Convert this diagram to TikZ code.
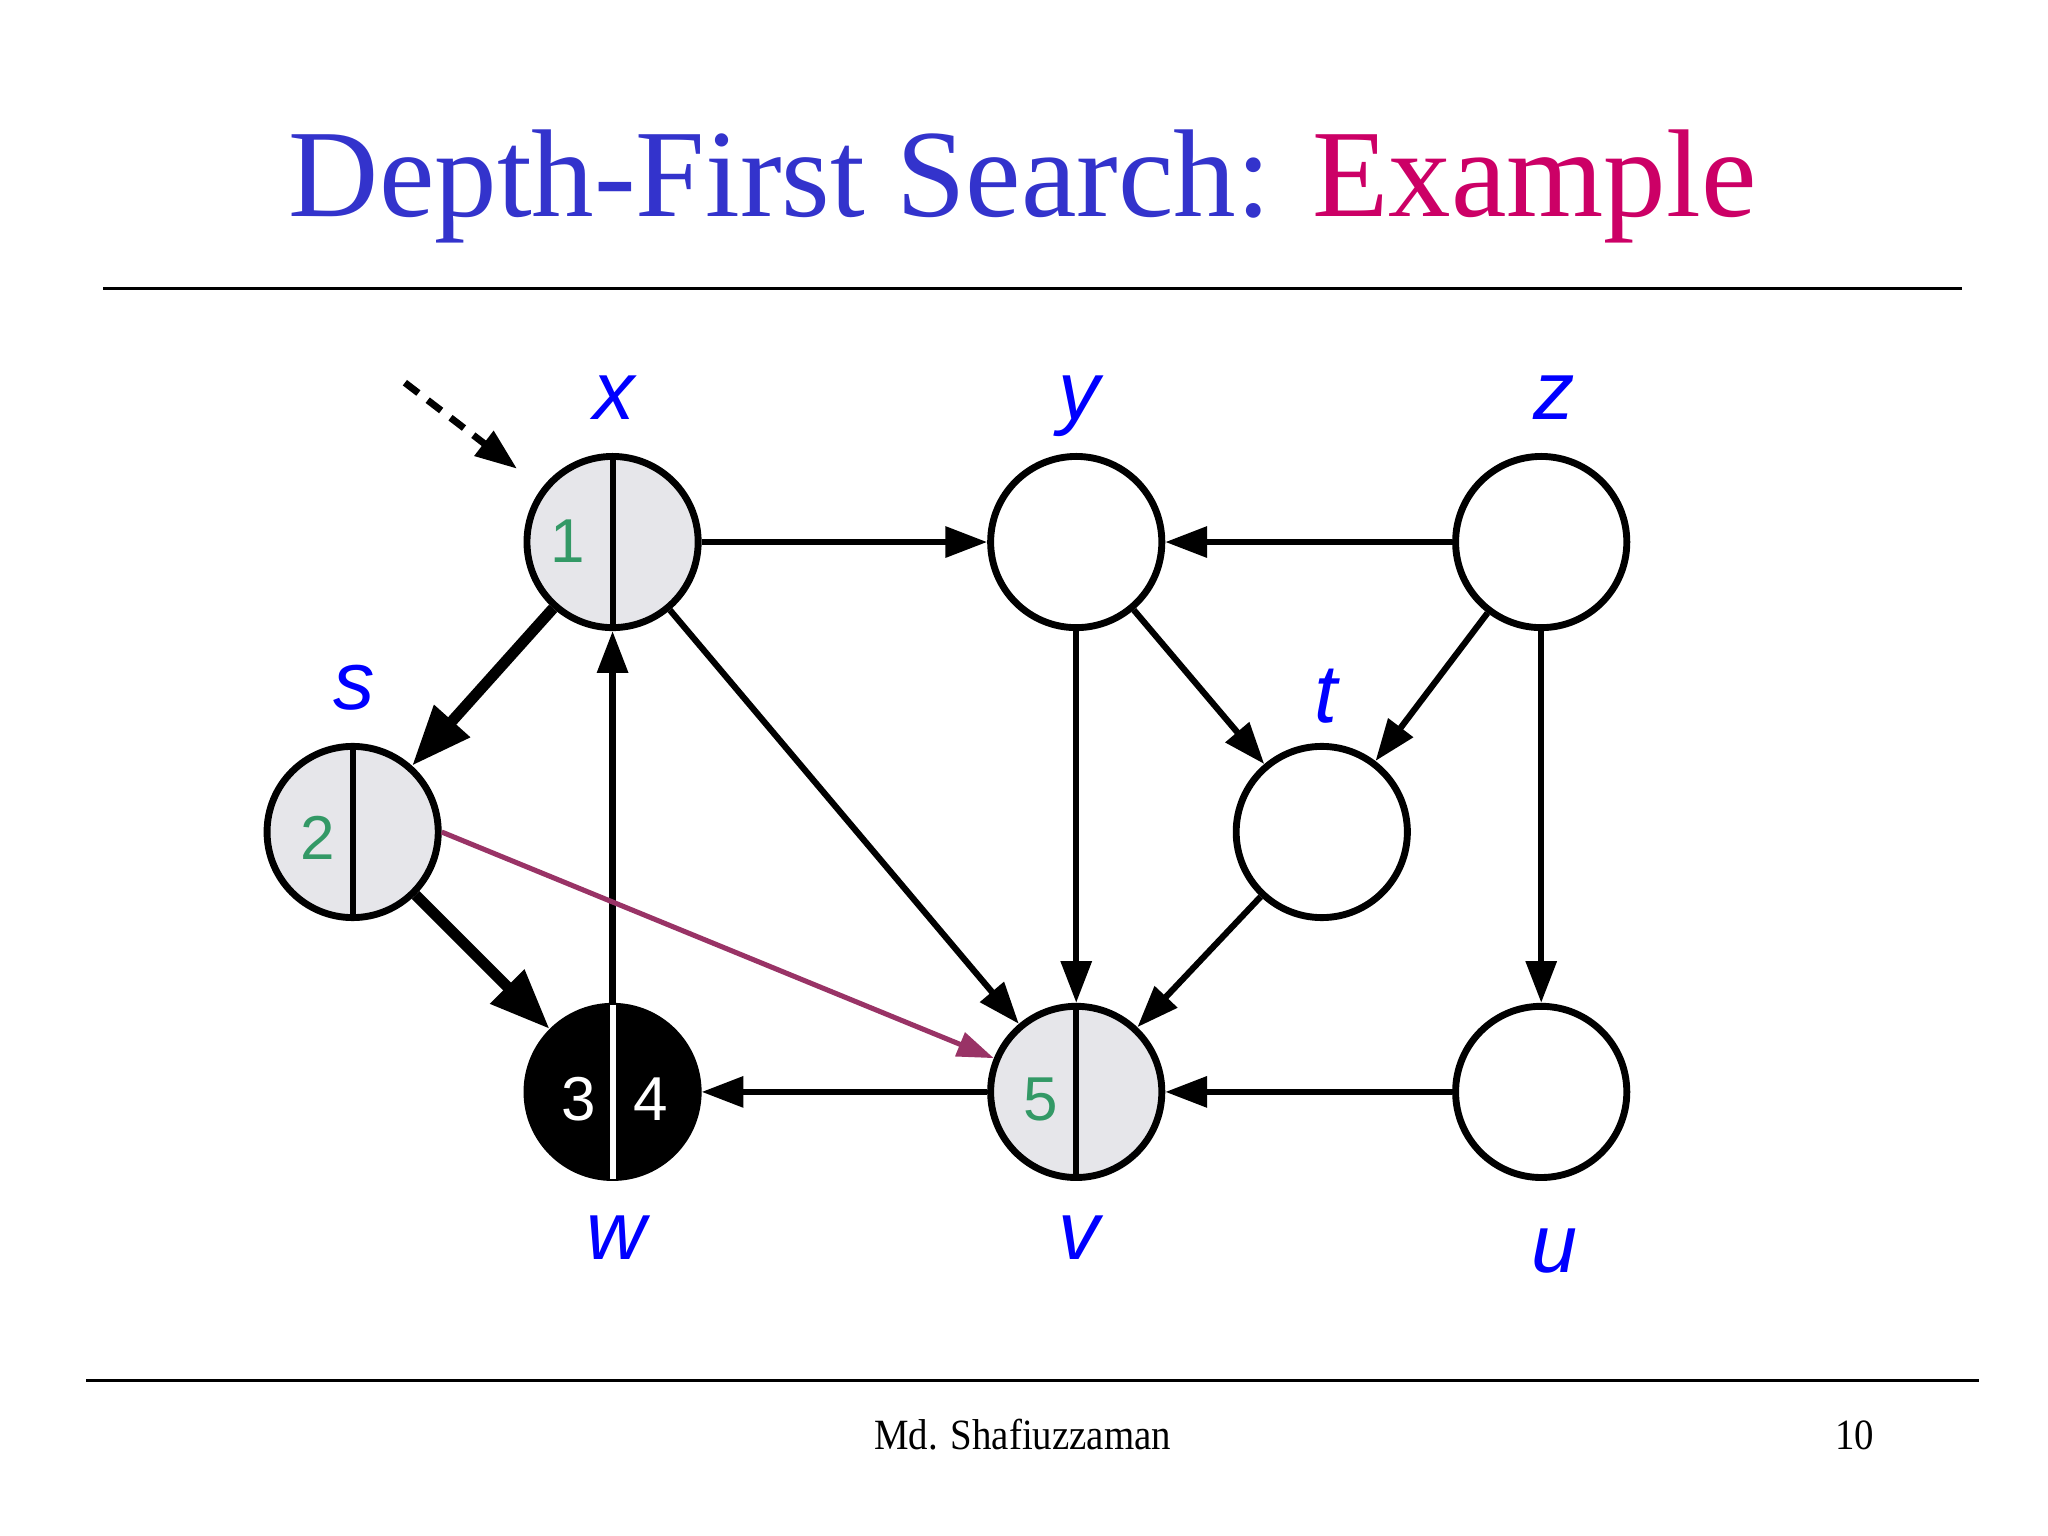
\documentclass[tikz,border=0pt]{standalone}
\usepackage{graphicx}
\usepackage{fontspec}
\setmainfont{Liberation Serif}
\newfontfamily\lsans{Liberation Sans}
\usetikzlibrary{arrows.meta}
\definecolor{titleblue}{HTML}{3333CC}
\definecolor{titlered}{HTML}{CC0066}
\definecolor{lblblue}{HTML}{0000FF}
\definecolor{numgreen}{HTML}{339966}
\definecolor{nodegray}{HTML}{E6E6EA}
\definecolor{backpurple}{HTML}{993366}
\begin{document}
\begin{tikzpicture}[x=0.01cm,y=-0.01cm,
  vert/.style={circle, draw=black, line width=1.5pt, minimum size=1.31cm, inner sep=0pt, fill=white},
  grayvert/.style={vert, fill=nodegray},
  blackvert/.style={vert, fill=black},
  lbl/.style={text=lblblue, font=\lsans\itshape\fontsize{18}{20}\selectfont, anchor=base, inner sep=0pt},
  num/.style={text=numgreen, font=\lsans\fontsize{13.5}{15}\selectfont, anchor=base, inner sep=0pt},
  wnum/.style={num, text=white},
  edge/.style={line width=1.35pt, -{Triangle[length=0.32cm,width=0.23cm]}},
  treeedge/.style={line width=2.4pt, -{Triangle[length=0.46cm,width=0.35cm]}},
  backedge/.style={line width=1.1pt, draw=backpurple, -{Triangle[length=0.28cm,width=0.19cm]}},
  startedge/.style={line width=1.5pt, dash pattern=on 0.13cm off 0.09cm, -{Triangle[length=0.32cm,width=0.23cm]}},
  divider/.style={line width=1.3pt},
  rule/.style={line width=0.8pt},
  foot/.style={anchor=base, inner sep=0pt, font=\fontsize{9.4}{11}\selectfont}]
\useasboundingbox (0,0) rectangle (1568,1176);
% title
\node[anchor=base, inner sep=0pt, font=\fontsize{27.2}{30}\selectfont] (title) at (783,166)
  {\textcolor{titleblue}{Depth-First Search:} \textcolor{titlered}{Example}};
% rules
\coordinate (r1a) at (79,221); \coordinate (r1b) at (1502,221);
\coordinate (r2a) at (66,1057); \coordinate (r2b) at (1515,1057);
\draw[rule] (r1a) -- (r1b);
\draw[rule] (r2a) -- (r2b);
% footer
\node[foot] (author) at (783,1110) {\scalebox{0.9}[1]{Md. Shafiuzzaman}};
\node[foot] (page) at (1420,1110) {\scalebox{0.9}[1]{10}};
% vertices
\node[grayvert] (x) at (469,415) {};
\node[vert] (y) at (824,415) {};
\node[vert] (z) at (1180,415) {};
\node[grayvert] (s) at (270,637) {};
\node[vert] (t) at (1012,637) {};
\node[blackvert] (w) at (469,836) {};
\node[grayvert] (v) at (824,836) {};
\node[vert] (u) at (1180,836) {};
% dividers
\draw[divider] (x.north) -- (x.south);
\draw[divider] (s.north) -- (s.south);
\draw[divider] (v.north) -- (v.south);
\draw[divider, white] ([yshift=-0.4pt]w.north) -- ([yshift=0.4pt]w.south);
% numbers
\node[num] (nx) at (435,431) {1};
\node[num] (ns) at (243,658) {2};
\node[num] (nv) at (797,858) {5};
\node[wnum] (nw1) at (443,858) {3};
\node[wnum] (nw2) at (498,858) {4};
% labels
\node[lbl] (lx) at (470,321) {x};
\node[lbl] (ly) at (826,321) {y};
\node[lbl] (lz) at (1190,321) {z};
\node[lbl] (ls) at (271,543) {s};
\node[lbl] (lt) at (1015,553) {t};
\node[lbl] (lw) at (472,964) {w};
\node[lbl] (lv) at (826,964) {v};
\node[lbl] (lu) at (1190,974) {u};
% edges
\coordinate (dstart) at (310,293);
\draw[startedge, shorten >=0.24cm] (dstart) -- (x);
\draw[edge] (x) -- (y);
\draw[edge] (z) -- (y);
\draw[treeedge] (x) -- (s);
\draw[edge] (x) -- (v);
\draw[edge] (y) -- (t);
\draw[edge] (z) -- (t);
\draw[edge] (y) -- (v);
\draw[edge] (z) -- (u);
\draw[edge] (t) -- (v);
\draw[edge] (w) -- (x);
\draw[treeedge] (s) -- (w);
\draw[backedge] (s.east) -- (v);
\draw[edge] (v) -- (w);
\draw[edge] (u) -- (v);
\end{tikzpicture}
\end{document}
